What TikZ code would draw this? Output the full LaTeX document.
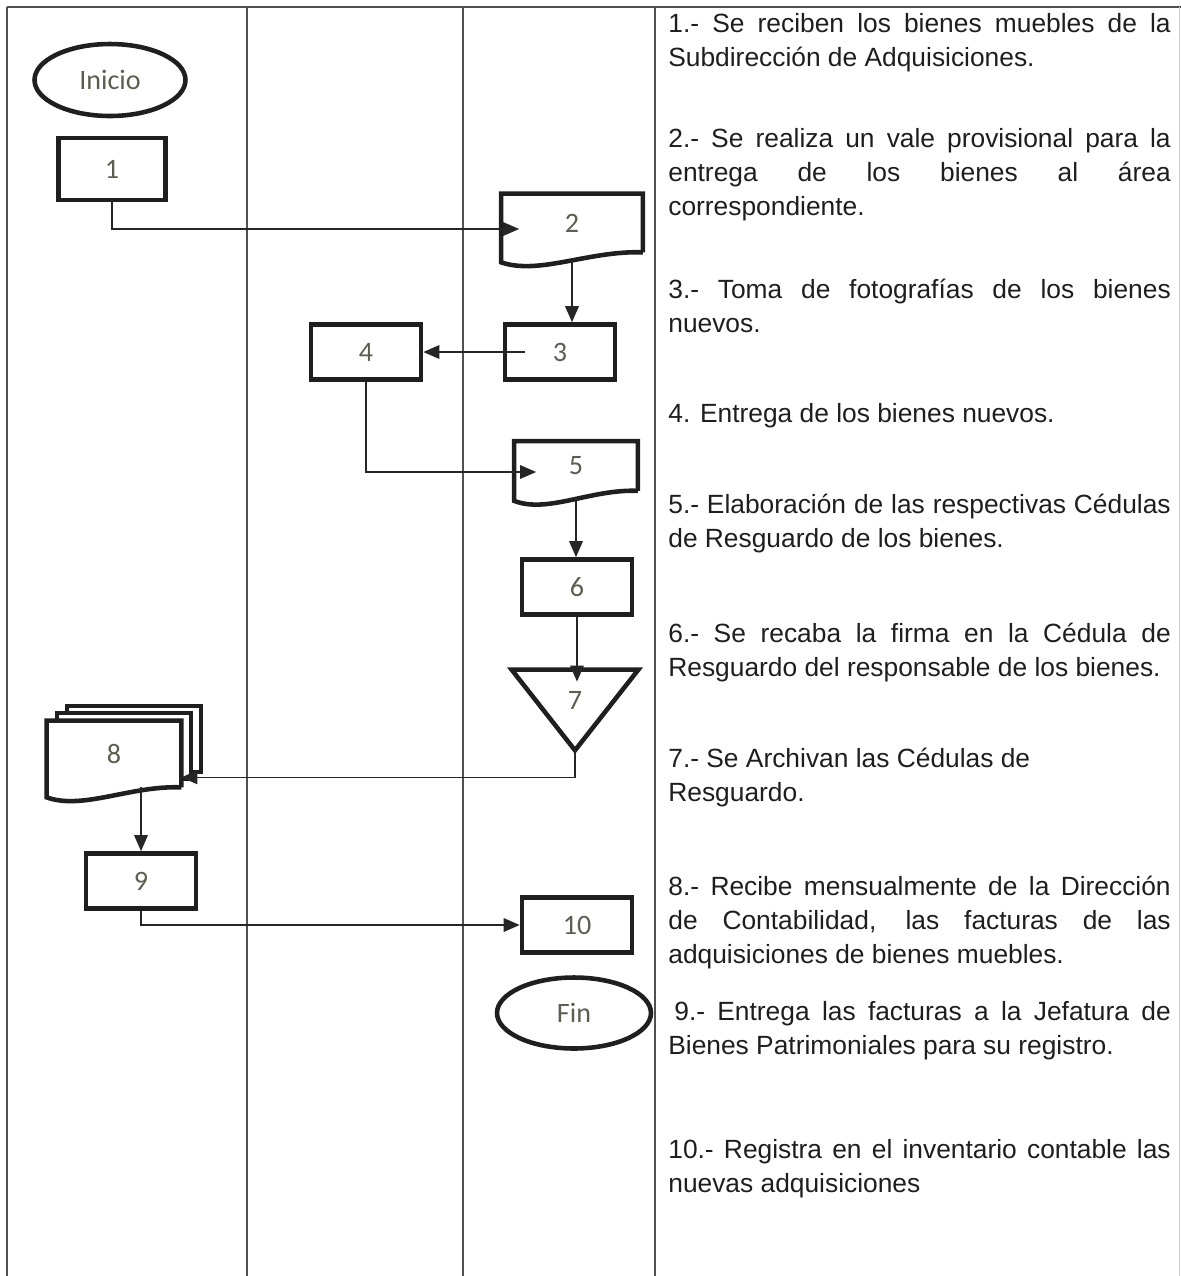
\documentclass[tikz,border=0pt]{standalone}
\usepackage{fontspec}
\setmainfont{Liberation Sans}
\newfontfamily\boxfont{Carlito}
\usetikzlibrary{arrows.meta,shapes.geometric}
\definecolor{lblgray}{HTML}{5E5E50}
\definecolor{inkgray}{HTML}{1E1E1E}
\definecolor{rulegray}{HTML}{505050}
\newcommand\docoutline[2]{%
	\draw[shapeline] (#1.south east) -- (#1.north east) -- (#1.north west) -- ([yshift=-0.2cm]#1.south west)
	.. controls +(0.27*#2,13) and +(-0.38*#2,-2) .. (#1.south east);}

\begin{document}
\begin{tikzpicture}[x=0.02cm,y=-0.02cm,
		frame/.style={draw=rulegray,line width=0.7pt},
		shapeline/.style={draw=black!88,line width=2.6pt},
		proc/.style={shapeline,rectangle,minimum width=2.2cm,minimum height=1.1cm,inner sep=0pt,font=\boxfont\fontsize{16}{18}\selectfont,text=lblgray},
		term/.style={shapeline,ellipse,inner sep=0pt,font=\boxfont\fontsize{16}{18}\selectfont,text=lblgray},
		doc/.style={rectangle,draw=none,fill=white,inner sep=0pt,font=\boxfont\fontsize{16}{18}\selectfont,text=lblgray},
		sheet/.style={shapeline,fill=white,rectangle,minimum width=2.68cm,minimum height=1.32cm},
		conn/.style={draw=black!85,line width=0.9pt,-{Triangle[length=0.32cm,width=0.27cm]}},
		desc/.style={anchor=base west,text width=10.05cm,align=justify,inner sep=0pt,text=inkgray,font=\fontsize{15}{19.35}\selectfont}]
	\useasboundingbox (0,0) rectangle (1181,1276);
	
	\draw[frame] (7,7) -- (1181,7);
	\foreach \x in {7,247,463,655}
		\draw[frame] (\x,7) -- (\x,1276);
	\draw[draw=gray!35,line width=0.5pt] (1179,7) -- (1179,1276);
	
	\node (inicio)[term,minimum width=3.02cm,minimum height=1.44cm] at (110,80) {Inicio};
	\node (b1)[proc,minimum width=2.14cm,minimum height=1.24cm] at (112,169) {1};
	\node (d2)[doc,minimum width=2.82cm,minimum height=1.16cm] at (572,223) {2};
	\docoutline{d2}{141}
	\node (b3)[proc] at (560,352) {3};
	\node (b4)[proc] at (366,352) {4};
	\node (d5)[doc,minimum width=2.46cm,minimum height=0.98cm] at (576,466) {5};
	\docoutline{d5}{123}
	\node (b6)[proc] at (577,587) {6};
	\node (t7)[rectangle,draw=none,minimum width=2.52cm,minimum height=1.6cm,inner sep=0pt] at (575,710) {};
	\draw[shapeline] (t7.north west) -- (t7.north east) -- (t7.south) -- cycle;
	\node (t7lbl)[font=\boxfont\fontsize{16}{18}\selectfont,text=lblgray,inner sep=0pt] at (575,700) {7};
	\node (d8c)[sheet] at (134,739) {};
	\node (d8b)[sheet] at (124,746) {};
	\node (d8)[doc,minimum width=2.68cm,minimum height=1.32cm] at (114,754) {8};
	\docoutline{d8}{134}
	\node (b9)[proc] at (141,881) {9};
	\node (b10)[proc] at (577,925) {10};
	\node (fin)[term,minimum width=3.08cm,minimum height=1.42cm] at (574,1013) {Fin};
	
	\draw[conn,shorten >=-0.36cm] (b1.south) |- ([yshift=-0.12cm]d2.west);
	\draw[conn] ([yshift=-0.16cm]d2.south) -- (d2.south |- b3.north);
	\draw[conn,shorten <=-0.44cm] (b3.west) -- (b4.east);
	\draw[conn,shorten >=-0.44cm] (b4.south) |- ([yshift=-0.12cm]d5.west);
	\draw[conn] ([yshift=-0.14cm]d5.south) -- (d5.south |- b6.north);
	\draw[conn,shorten >=-0.24cm] (b6.south) -- (b6.south |- t7.north);
	\draw[conn] (t7.south) |- ([yshift=0.2cm]d8.south east);
	\draw[conn] (b9.north |- d8.south) -- (b9.north);
	\draw[conn] (b9.south) |- (b10.west);
	
	\node (p1)[desc] at (668,32) {1.- Se reciben los bienes muebles de la\linebreak Subdirección de Adquisiciones.};
	\node (p2)[desc] at (668,147) {2.- Se realiza un vale provisional para la\linebreak entrega de los bienes al área\linebreak correspondiente.};
	\node (p3)[desc] at (668,298) {3.- Toma de fotografías de los bienes\linebreak nuevos.};
	\node (p4)[desc] at (668,422) {4. Entrega de los bienes nuevos.};
	\node (p5)[desc] at (668,513) {5.- Elaboración de las respectivas Cédulas\linebreak de Resguardo de los bienes.};
	\node (p6)[desc] at (668,642) {6.- Se recaba la firma en la Cédula de\linebreak Resguardo del responsable de los bienes.};
	\node (p7)[desc] at (668,767) {7.- Se Archivan las Cédulas de\\ Resguardo.};
	\node (p8)[desc] at (668,895) {8.- Recibe mensualmente de la Dirección\linebreak de Contabilidad, las facturas de las\linebreak adquisiciones de bienes muebles.};
	\node (p9)[desc] at (668,1020) {\hspace{0.12cm}9.- Entrega las facturas a la Jefatura de\linebreak Bienes Patrimoniales para su registro.};
	\node (p10)[desc] at (668,1158) {10.- Registra en el inventario contable las\linebreak nuevas adquisiciones};
\end{tikzpicture}
\end{document}
